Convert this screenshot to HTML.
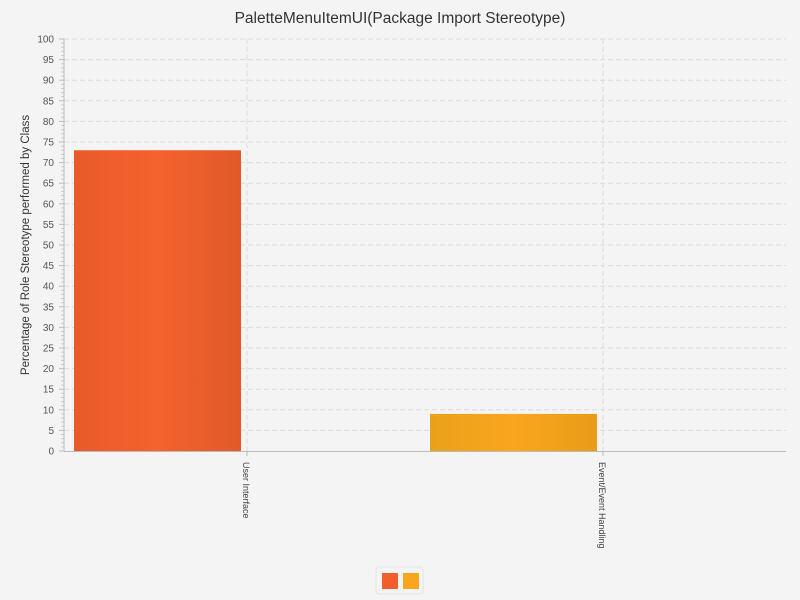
<!DOCTYPE html>
<html><head><meta charset="utf-8"><style>
html,body{margin:0;overflow:hidden;background:#f4f4f4;font-family:"Liberation Sans",sans-serif}
svg{display:block}
</style></head><body>
<svg width="800" height="600" xmlns="http://www.w3.org/2000/svg">
<defs>
<linearGradient id="g0" x1="0" x2="1"><stop offset="0" stop-color="#e85a2a"/><stop offset="0.5" stop-color="#f4622d"/><stop offset="1" stop-color="#e05a28"/></linearGradient>
<linearGradient id="g1" x1="0" x2="1"><stop offset="0" stop-color="#eaa11c"/><stop offset="0.5" stop-color="#faa61e"/><stop offset="1" stop-color="#e89c18"/></linearGradient>
</defs>
<rect width="800" height="600" fill="#f4f4f4"/>
<text x="400" y="23" text-anchor="middle" font-size="15.5" fill="#333">PaletteMenuItemUI(Package Import Stereotype)</text>
<g id="grid"></g><g id="bars"></g><g id="axes"></g>
<text transform="translate(29,245) rotate(-90)" text-anchor="middle" font-size="11.5" fill="#333">Percentage of Role Stereotype performed by Class</text>
<rect x="376" y="567" width="47" height="27" rx="3" fill="#f4f4f4" stroke="#e4e4e4"/>
<rect x="382" y="573" width="16" height="16" fill="#f05f2c"/>
<rect x="403" y="573" width="16" height="16" fill="#f9a61e"/>
</svg>
<script>
const categories=["User Interface","Event/Event Handling"];
const series1=[73,0];
const series2=[0,9];
const yTicks=[0,5,10,15,20,25,30,35,40,45,50,55,60,65,70,75,80,85,90,95,100];
const NS="http://www.w3.org/2000/svg";
const L=64,R=786,T=39,B=451,start=69,band=356,bw=167;
const y=v=>B-(v/100)*(B-T);
function mk(p,t,a){const e=document.createElementNS(NS,t);for(const k in a)e.setAttribute(k,a[k]);document.getElementById(p).appendChild(e);return e;}
yTicks.forEach(v=>{
 if(v>0){const l=mk('grid','line',{x1:L,x2:R,y1:y(v),y2:y(v),stroke:'#dcdcdc','stroke-dasharray':'5,3'});
 }
 const t=mk('axes','text',{x:L-10,y:y(v)+3.5,'text-anchor':'end','font-size':'10',fill:'#555'});t.textContent=v;
 
 mk('axes','line',{x1:L-5,x2:L,y1:y(v),y2:y(v),stroke:'#bbb'});
});
for(let v=0;v<=100;v++){if(v%5)mk('axes','line',{x1:L-3,x2:L,y1:y(v),y2:y(v),stroke:'#ccc'});}
mk('axes','line',{x1:L,x2:L,y1:T,y2:B,stroke:'#bbb'});
mk('axes','line',{x1:L,x2:R,y1:B+0.5,y2:B+0.5,stroke:'#bbb'});
categories.forEach((c,i)=>{
 const cx=start+band*i+band/2;
 const g=mk('grid','line',{x1:cx,x2:cx,y1:T,y2:B,stroke:'#dcdcdc','stroke-dasharray':'5,3'});
 
 mk('axes','line',{x1:cx,x2:cx,y1:B,y2:B+5,stroke:'#bbb'});
 const t=mk('axes','text',{transform:`translate(${cx-4},${B+11}) rotate(90)`,'font-size':'9',fill:'#444'});t.textContent=c;
 
 [series1,series2].forEach((s,k)=>{
  if(!s[i])return;
  const x=start+band*i+5;
  const r=mk('bars','rect',{x:x,y:y(s[i]),width:bw,height:B-y(s[i]),fill:`url(#g${k})`});
  
 });
});
</script>
</body></html>
